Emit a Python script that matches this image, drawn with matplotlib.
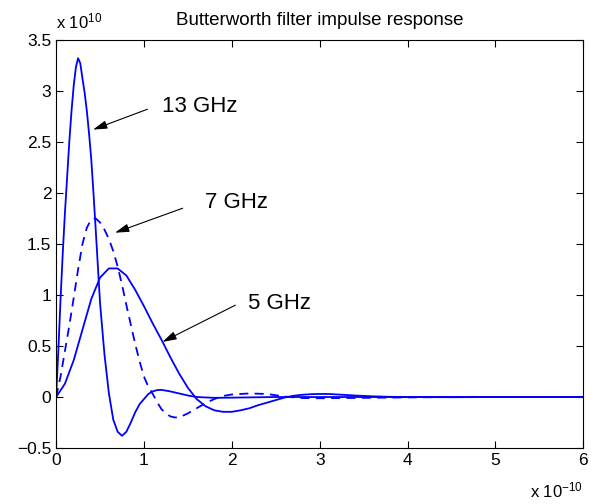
import matplotlib
matplotlib.use("Agg")
import matplotlib.pyplot as plt
import numpy as np
from matplotlib.patches import ArrowStyle
from matplotlib.ticker import FuncFormatter

plt.rcParams['font.family'] = ['Liberation Sans', 'DejaVu Sans']
plt.rcParams['mathtext.default'] = 'regular'

# time in units of 1e-10 s, response in units of 1e10
t_13 = np.array([0, .025, .05, .075, .1, .125, .15, .175, .2, .225, .25, .275, .3,
                 .325, .35, .375, .4, .425, .45, .5, .55, .6, .65, .7, .75, .8,
                 .85, .9, .95, 1.0, 1.05, 1.1, 1.15, 1.2, 1.3, 1.4, 1.5, 1.6, 1.8,
                 2.0, 2.5, 3.0, 4.0, 5.0, 6.0])
h_13 = np.array([0, .45, .95, 1.4, 1.8, 2.15, 2.5, 2.8, 3.05, 3.23, 3.32, 3.27,
                 3.12, 2.98, 2.8, 2.58, 2.33, 2.0, 1.65, .92, .42, .04, -.22, -.34,
                 -.38, -.34, -.25, -.15, -.07, -.02, .03, .055, .068, .07, .055,
                 .035, .015, 0, -.008, -.006, 0, 0, 0, 0, 0])

t_7 = np.array([0, .05, .1, .15, .2, .25, .3, .35, .4, .45, .5, .55, .6, .65, .7,
                .75, .8, .85, .9, .95, 1.0, 1.05, 1.1, 1.15, 1.2, 1.25, 1.3, 1.35,
                1.4, 1.5, 1.6, 1.7, 1.8, 1.9, 2.0, 2.2, 2.4, 2.6, 2.8, 3.0, 3.5,
                4.0, 4.5, 5.0, 6.0])
h_7 = np.array([0, .2, .45, .7, .97, 1.25, 1.5, 1.66, 1.74, 1.75, 1.71, 1.64, 1.55,
                1.43, 1.28, 1.1, .9, .71, .52, .35, .2, .1, .03, -.05, -.12, -.16,
                -.19, -.2, -.2, -.16, -.11, -.06, -.02, .01, .025, .035, .03, .005,
                -.01, -.012, -.008, -.004, 0, 0, 0])

t_5 = np.array([0, .1, .2, .3, .4, .5, .6, .7, .8, .9, 1.0, 1.1, 1.2, 1.3, 1.4, 1.5,
                1.6, 1.7, 1.8, 1.9, 2.0, 2.1, 2.2, 2.3, 2.4, 2.5, 2.6, 2.7, 2.8,
                2.9, 3.0, 3.1, 3.2, 3.4, 3.6, 3.8, 4.0, 4.5, 5.0, 6.0])
h_5 = np.array([0, .13, .36, .66, .96, 1.17, 1.26, 1.26, 1.19, 1.05, .89, .72, .56,
                .39, .23, .09, -.02, -.09, -.13, -.145, -.145, -.13, -.11, -.08,
                -.055, -.03, -.005, .012, .022, .028, .03, .03, .025, .015, .007,
                .002, 0, -.002, 0, 0])

labels = ['13 GHz', '7 GHz', '5 GHz']
label_pos = [(1.21, 2.85), (1.70, 1.91), (2.18, 0.92)]
arrow_tail = [(1.04, 2.82), (1.44, 1.85), (2.04, 0.90)]
arrow_head = [(0.42, 2.62), (0.67, 1.61), (1.21, 0.54)]

fig = plt.figure(figsize=(5.97, 5.04), dpi=100)
ax = fig.add_axes([0.094, 0.111, 0.883, 0.81])

blue = '#0000ff'
ax.plot(t_13, h_13, color=blue, lw=1.3)
ax.plot(t_7, h_7, color=blue, lw=1.3, linestyle=(0, (5, 3.5)))
ax.plot(t_5, h_5, color=blue, lw=1.3)

head = ArrowStyle('-|>', head_length=0.85, head_width=0.25)
for lab, pos, tail, tip in zip(labels, label_pos, arrow_tail, arrow_head):
    ax.annotate('', xy=tip, xytext=tail,
                arrowprops=dict(arrowstyle=head, color='black', lw=0.8,
                                mutation_scale=10, shrinkA=0, shrinkB=0))
    ax.text(pos[0], pos[1], lab, fontsize=16, ha='left', va='center')

ax.set_xlim(0, 6)
ax.set_ylim(-0.5, 3.5)
ax.set_xticks(np.arange(0, 7, 1))
ax.set_yticks(np.arange(-0.5, 3.6, 0.5))
fmt = FuncFormatter(lambda v, p: ('%g' % v).replace('-', '\u2212'))
ax.xaxis.set_major_formatter(fmt)
ax.yaxis.set_major_formatter(fmt)
ax.tick_params(direction='in', top=True, right=True, length=5, width=0.8,
               labelsize=12.5)
for s in ax.spines.values():
    s.set_linewidth(0.8)

ax.set_title('Butterworth filter impulse response', fontsize=13.5, pad=11)
ax.text(0.0, 1.02, r'x 10$^{10}$', transform=ax.transAxes, fontsize=12,
        ha='left', va='bottom')
ax.text(1.0, -0.12, r'x 10$^{-10}$', transform=ax.transAxes, fontsize=12,
        ha='right', va='baseline')

plt.savefig('out.png', dpi=100)
